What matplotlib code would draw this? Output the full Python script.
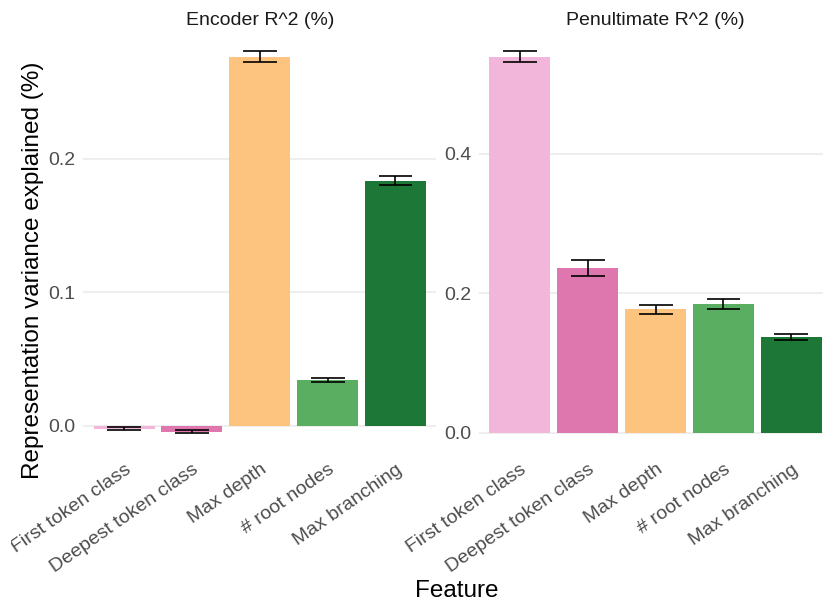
import matplotlib
matplotlib.use("Agg")
import matplotlib.pyplot as plt
import matplotlib.transforms as mtransforms
import numpy as np

plt.rcParams['font.family'] = ['Liberation Sans', 'DejaVu Sans']

# data
features = ["First token class", "Deepest token class", "Max depth", "# root nodes", "Max branching"]
colors = ["#F1B6DA", "#DE77AE", "#FDC47F", "#5AAE61", "#1D7837"]

encoder_r2 = [-0.0023, -0.0045, 0.2763, 0.0345, 0.1835]
encoder_err = [0.0011, 0.0009, 0.0041, 0.0016, 0.0032]

penult_r2 = [0.5391, 0.2366, 0.1770, 0.1846, 0.1375]
penult_err = [0.0077, 0.0117, 0.0060, 0.0074, 0.0043]

panel_titles = ["Encoder R^2 (%)", "Penultimate R^2 (%)"]
yticks = [[0.0, 0.1, 0.2], [0.0, 0.2, 0.4]]

fig = plt.figure(figsize=(8.23, 6.07), dpi=100)
ax_left = fig.add_axes([0.1013, 0.2554, 0.4287, 0.6913])
ax_right = fig.add_axes([0.5823, 0.2554, 0.4287, 0.6913])

panels = [(ax_left, encoder_r2, encoder_err), (ax_right, penult_r2, penult_err)]

# left edge clip like in the original (the first label is cut at the margin)
clip = mtransforms.TransformedBbox(
    mtransforms.Bbox.from_extents(10.5 / 823, 0, 1, 1), fig.transFigure)

for i, (ax, vals, errs) in enumerate(panels):
    vals = np.array(vals)
    errs = np.array(errs)
    x = np.arange(len(features))

    ax.bar(x, vals, width=0.9, color=colors, zorder=2)
    # error bars drawn like ggplot's geom_errorbar (width 0.5)
    ax.vlines(x, vals - errs, vals + errs, color="black", lw=1.2, zorder=3)
    ax.hlines(vals - errs, x - 0.25, x + 0.25, color="black", lw=1.2, zorder=3)
    ax.hlines(vals + errs, x - 0.25, x + 0.25, color="black", lw=1.2, zorder=3)

    # ggplot style 5% expansion of the data range
    lo = min(0.0, (vals - errs).min())
    hi = max(0.0, (vals + errs).max())
    pad = (hi - lo) * 0.05
    ax.set_ylim(lo - pad, hi + pad)
    ax.set_xlim(-0.6, len(features) - 0.4)

    ax.set_yticks(yticks[i])
    ax.set_yticklabels(["%.1f" % t for t in yticks[i]])
    ax.set_xticks(x)
    ax.set_xticklabels(features, rotation=35, ha="right", va="top",
                       rotation_mode="anchor")
    offset = mtransforms.ScaledTranslation(5 / 100, 0, fig.dpi_scale_trans)
    for lab in ax.get_xticklabels():
        lab.set_transform(lab.get_transform() + offset)
        lab.set_clip_on(True)
        lab.set_clip_box(clip)

    ax.tick_params(axis="both", length=0, labelsize=14, labelcolor="#4D4D4D")
    ax.tick_params(axis="y", pad=5.5)
    ax.tick_params(axis="x", pad=6.5)

    ax.grid(axis="y", color="#EBEBEB", lw=1.2, zorder=0)
    ax.set_axisbelow(True)
    for s in ax.spines.values():
        s.set_visible(False)

    ax.set_title(panel_titles[i], fontsize=14, color="#1A1A1A", pad=5)

fig.text(33 / 823, 1 - 270 / 607, "Representation variance explained (%)",
         rotation=90, ha="center", va="center", fontsize=17.5, color="black")
fig.text(457 / 823, 1 - 591 / 607, "Feature", ha="center", va="center",
         fontsize=17.5, color="black")

fig.savefig("out.png", dpi=100)
